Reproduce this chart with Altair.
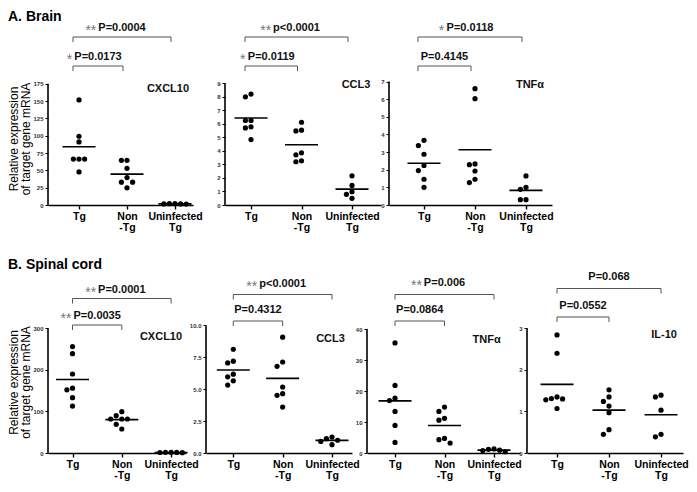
import json
import altair as alt
import pandas as pd

# ---------------- data ----------------
GROUP_LABELS = ["Tg", "Non\n-Tg", "Uninfected\nTg"]
Y_TITLE = "Relative  expression\nof target gene mRNA"

brain_cxcl10_tg = [151.6, 99.2, 91.0, 66.3, 66.3, 66.3, 47.7]
brain_cxcl10_non = [64.4, 64.4, 52.9, 39.6, 32.9, 32.9, 24.8]
brain_cxcl10_uninf = [2.0, 1.5, 1.3, 1.6, 1.9]

brain_ccl3_tg = [8.2, 8.0, 6.25, 6.25, 5.78, 5.7, 4.84]
brain_ccl3_non = [6.12, 5.53, 5.48, 3.86, 3.71, 3.27, 3.2]
brain_ccl3_uninf = [2.16, 1.45, 0.98, 0.79, 0.49]

brain_tnfa_tg = [3.67, 3.37, 2.88, 2.24, 1.95, 1.46, 1.0]
brain_tnfa_non = [6.6, 6.03, 2.33, 2.29, 1.93, 1.46, 1.27]
brain_tnfa_uninf = [1.65, 1.0, 0.89, 0.3, 0.3]

spinal_cxcl10_tg = [256, 239, 190, 156, 152, 133, 113]
spinal_cxcl10_non = [99.5, 89.8, 81.8, 81.8, 81.8, 69, 57.8]
spinal_cxcl10_uninf = [1.8, 1.2, 0.9, 1.4, 1.6]

spinal_ccl3_tg = [8.13, 7.2, 7.06, 6.18, 5.97, 5.66, 5.32]
spinal_ccl3_non = [9.08, 7.13, 6.79, 5.17, 4.65, 4.52, 3.6]
spinal_ccl3_uninf = [1.25, 1.0, 0.65, 0.91, 1.12]

spinal_tnfa_tg = [35.5, 21.8, 17.7, 16.9, 13.4, 8.9, 3.4]
spinal_tnfa_non = [14.8, 13.4, 11.2, 10.6, 4.7, 4.3, 3.2]
spinal_tnfa_uninf = [1.3, 0.9, 0.4, 0.8, 1.2]

spinal_il10_tg = [2.84, 2.4, 1.35, 1.31, 1.3, 1.28, 1.07]
spinal_il10_non = [1.52, 1.35, 1.24, 1.13, 0.97, 0.56, 0.45]
spinal_il10_uninf = [1.39, 1.35, 1.03, 0.45, 0.39]

# brackets: (from group, to group, stars, p-value text)
brain_cxcl10_br = [(0, 2, "**", "P=0.0004"), (0, 1, "*", "P=0.0173")]
brain_ccl3_br = [(0, 2, "**", "p<0.0001"), (0, 1, "*", "P=0.0119")]
brain_tnfa_br = [(0, 2, "*", "P=0.0118"), (0, 1, "", "P=0.4145")]
spinal_cxcl10_br = [(0, 2, "**", "P=0.0001"), (0, 1, "**", "P=0.0035")]
spinal_ccl3_br = [(0, 2, "**", "p<0.0001"), (0, 1, "", "P=0.4312")]
spinal_tnfa_br = [(0, 2, "**", "P=0.006"), (0, 1, "", "P=0.0864")]
spinal_il10_br = [(0, 2, "", "P=0.068"), (0, 1, "", "P=0.0552")]

# ---------------- styling / layout ----------------
FONT = "Liberation Sans"
H = 184
DOT_STEP = 5.6
MEAN_HALF = 16.5
TICK_LEN = 5

BOLD_W = {"P": .667, "=": .584, ".": .278, "<": .584, "p": .611}


def text_width(s, size=11):
    return sum(BOLD_W.get(c, .556) for c in s) * size


def js_label_expr(labels):
    parts = []
    for i, lab in enumerate(labels[:-1]):
        parts.append(f"datum.value == {i} ? {json.dumps(lab.split(chr(10)))} : ")
    return "".join(parts) + json.dumps(labels[-1].split("\n"))


def make_panel(gene, groups, yticks, yfmt, xdom, width, axis_px, brackets,
               levels, gap, gene_pos, shift, ytitle=None, ytitle_px=0):
    xmin, xmax = xdom
    ppx = width / (xmax - xmin)
    ymax = yticks[-1]
    ppy = axis_px / ymax
    ytop = H / ppy

    pts, means = [], []
    for gi, vals in enumerate(groups):
        placed = []
        for v in sorted(vals, reverse=True):
            for k in (0, -1, 1, -2, 2, -3, 3):
                if all(pk != k or abs(pv - v) * ppy >= DOT_STEP for pk, pv in placed):
                    break
            placed.append((k, v))
            pts.append({"x": gi + k * DOT_STEP / ppx, "y": v})
        m = sum(vals) / len(vals)
        means.append({"x": gi - MEAN_HALF / ppx, "x2": gi + MEAN_HALF / ppx, "y": m})

    hrows, vrows, ptxt, stxt = [], [], [], []
    for (s, e, stars, ptext), lev in zip(brackets, levels):
        xs = s + shift[0] / ppx
        xe = e + shift[1] / ppx
        yl = lev / ppy
        hrows.append({"x": xs, "x2": xe, "y": yl})
        for xx in (xs, xe):
            vrows.append({"x": xx, "y": yl, "y2": yl - TICK_LEN / ppy})
        cx = (xs + xe) / 2
        ty = (lev + gap) / ppy
        ptxt.append({"x": cx, "y": ty, "t": ptext})
        if stars:
            stxt.append({"x": cx - (text_width(ptext) / 2 + 2) / ppx, "y": ty, "t": stars})

    xs_ = alt.Scale(domain=[xmin, xmax], nice=False, zero=False)
    ys_ = alt.Scale(domain=[0, ytop], nice=False, zero=False)
    xaxis = alt.Axis(values=[0, 1, 2], labelExpr=js_label_expr(GROUP_LABELS), title=None,
                     grid=False, domain=True, domainColor="black", domainWidth=1.6,
                     ticks=True, tickSize=4, tickColor="black", tickWidth=1.4,
                     labelFont=FONT, labelFontSize=10.5, labelFontWeight="bold",
                     labelColor="black", labelPadding=2, labelLineHeight=11,
                     labelOverlap=False, labelFlush=False)
    yaxis = alt.Axis(values=yticks, format=yfmt, grid=False, domain=False, ticks=True,
                     tickSize=3, tickColor="black", tickWidth=1, labelFont=FONT,
                     labelFontSize=6, labelFontWeight="bold", labelColor="#333",
                     labelPadding=2, labelOverlap=False, labelFlush=False, title=None)
    X = alt.X("x:Q", scale=xs_, axis=xaxis)
    Y = alt.Y("y:Q", scale=ys_, axis=yaxis)

    layers = [
        alt.Chart(pd.DataFrame(pts)).mark_circle(size=27, color="black", opacity=1).encode(x=X, y=Y),
        alt.Chart(pd.DataFrame(means)).mark_rule(color="black", strokeWidth=1.6).encode(
            x=X, x2=alt.X2("x2"), y=Y),
        alt.Chart(pd.DataFrame([{"x": xmin, "y": 0, "y2": ymax}])).mark_rule(
            color="black", strokeWidth=1.6).encode(x=X, y=Y, y2=alt.Y2("y2")),
        alt.Chart(pd.DataFrame(hrows)).mark_rule(color="#555", strokeWidth=1).encode(
            x=X, x2=alt.X2("x2"), y=Y),
        alt.Chart(pd.DataFrame(vrows)).mark_rule(color="#555", strokeWidth=1).encode(
            x=X, y=Y, y2=alt.Y2("y2")),
        alt.Chart(pd.DataFrame(ptxt)).mark_text(font=FONT, fontSize=11, fontWeight="bold",
                                                color="#111", align="center",
                                                baseline="middle").encode(x=X, y=Y, text="t:N"),
        alt.Chart(pd.DataFrame([{"x": gene_pos[0], "y": gene_pos[1] / ppy, "t": gene}])).mark_text(
            font=FONT, fontSize=11, fontWeight="bold", color="#111", align="center",
            baseline="middle").encode(x=X, y=Y, text="t:N"),
    ]
    if stxt:
        layers.append(alt.Chart(pd.DataFrame(stxt)).mark_text(
            font=FONT, fontSize=14, color="#777", align="right", baseline="middle",
            dy=3).encode(x=X, y=Y, text="t:N"))
    if ytitle:
        layers.append(alt.Chart(pd.DataFrame([{"x": xmin - 34 / ppx, "y": ytitle_px / ppy,
                                               "t": ytitle}])).mark_text(
            font=FONT, fontSize=12, color="black", angle=270, align="center",
            baseline="middle", lineBreak="\n", lineHeight=12).encode(x=X, y=Y, text="t:N"))
    return alt.layer(*layers).properties(width=width, height=H)


LEV_A = [168, 139]
A1 = make_panel("CXCL10", [brain_cxcl10_tg, brain_cxcl10_non, brain_cxcl10_uninf],
                [0, 25, 50, 75, 100, 125, 150, 175], "d", (-0.646, 2.375), 145, 121.3,
                brain_cxcl10_br, LEV_A, 9.5, (1.854, 116), (-6, -4), Y_TITLE, 66)
A2 = make_panel("CCL3", [brain_ccl3_tg, brain_ccl3_non, brain_ccl3_uninf],
                list(range(0, 10)), "d", (-0.515, 2.574), 156, 121.7,
                brain_ccl3_br, LEV_A, 9.5, (2.079, 120), (-6, -4))
A3 = make_panel("TNF\u03b1", [brain_tnfa_tg, brain_tnfa_non, brain_tnfa_uninf],
                list(range(0, 8)), "d", (-0.686, 2.51), 163, 123.4,
                brain_tnfa_br, LEV_A, 9.5, (2.079, 120), (-6, -4))

B1 = make_panel("CXCL10", [spinal_cxcl10_tg, spinal_cxcl10_non, spinal_cxcl10_uninf],
                [0, 100, 200, 300], "d", (-0.497, 2.302), 138, 124.7,
                spinal_cxcl10_br, [154.5, 128], 9, (1.795, 116), (0, 0), Y_TITLE, 70.5)
B2 = make_panel("CCL3", [spinal_ccl3_tg, spinal_ccl3_non, spinal_ccl3_uninf],
                [0, 2.5, 5, 7.5, 10], ".1f", (-0.553, 2.405), 146, 127.6,
                spinal_ccl3_br, [158.5, 132], 11, (1.97, 114), (0, 0))
B3 = make_panel("TNF\u03b1", [spinal_tnfa_tg, spinal_tnfa_non, spinal_tnfa_uninf],
                [0, 10, 20, 30, 40], "d", (-0.566, 2.525), 153, 124.0,
                spinal_tnfa_br, [158.5, 132], 11.5, (1.852, 113), (0, 0))
B4 = make_panel("IL-10", [spinal_il10_tg, spinal_il10_non, spinal_il10_uninf],
                [0, 1, 2, 3], "d", (-0.577, 2.423), 156, 124.7,
                spinal_il10_br, [164.5, 136], 11.5, (2.06, 118), (0, 0))


def row_title(t):
    return alt.TitleParams(t, anchor="start", frame="bounds", fontSize=14, font=FONT,
                           fontWeight="bold", color="black", offset=-3)


rowA = alt.hconcat(A1, alt.hconcat(A2, A3, spacing=8, bounds="flush"),
                   spacing=32, bounds="flush", title=row_title("A. Brain"))
rowB = alt.hconcat(B1, alt.hconcat(B2, alt.hconcat(B3, B4, spacing=7, bounds="flush"),
                                   spacing=15, bounds="flush"),
                   spacing=20, bounds="flush", title=row_title("B. Spinal cord"))

chart = alt.vconcat(rowA, rowB, spacing=248, bounds="flush").properties(
    padding={"left": 0, "top": 2, "right": 0, "bottom": 0}
).configure(font=FONT).configure_view(stroke=None)

chart.save("out.html", embed_options={"renderer": "svg", "actions": False})
